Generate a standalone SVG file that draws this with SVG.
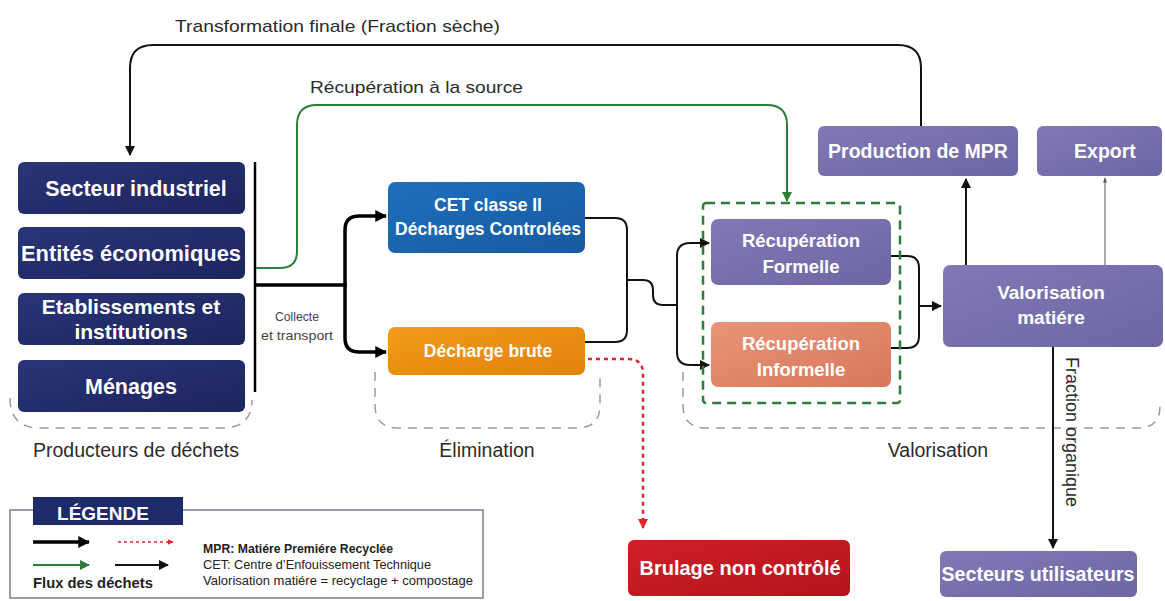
<svg xmlns="http://www.w3.org/2000/svg" width="1165" height="601" viewBox="0 0 1165 601">
  <style>
    .lbl { font-family: "Liberation Sans", Arial, sans-serif; fill: #2b2b2b; font-size: 17px; }
    .zl { font-size: 19.5px; text-anchor: middle; }
    .nt { font-family: "Liberation Sans", Arial, sans-serif; fill: #ffffff; font-weight: bold; text-anchor: middle; }
    .zone { fill: none; stroke: #9a9a9a; stroke-width: 1.5; stroke-dasharray: 9 7; }
    .thick { fill: none; stroke: #000; stroke-width: 3.5; }
    .thin { fill: none; stroke: #111; stroke-width: 2; }
    .hair { fill: none; stroke: #555; stroke-width: 1; }
    .green { fill: none; stroke: #2f7d3a; stroke-width: 2; }
    .red { fill: none; stroke: #e3262b; stroke-width: 2.5; stroke-dasharray: 4 4; }
    .leg { font-family: "Liberation Sans", Arial, sans-serif; fill: #222; font-size: 13.5px; }
    .ct { font-size: 13px; fill: #444; text-anchor: middle; }
  </style>
  <defs>
    <linearGradient id="gNavy" x1="0" y1="0" x2="1" y2="1">
      <stop offset="0" stop-color="#2a3478"/><stop offset="1" stop-color="#1d255e"/>
    </linearGradient>
    <linearGradient id="gBlue" x1="0" y1="0" x2="1" y2="1">
      <stop offset="0" stop-color="#1f6fbd"/><stop offset="1" stop-color="#175aa0"/>
    </linearGradient>
    <linearGradient id="gOrange" x1="0" y1="0" x2="1" y2="1">
      <stop offset="0" stop-color="#f59a1a"/><stop offset="1" stop-color="#e0820a"/>
    </linearGradient>
    <linearGradient id="gPurple" x1="0" y1="0" x2="1" y2="1">
      <stop offset="0" stop-color="#8079b5"/><stop offset="1" stop-color="#6d66a4"/>
    </linearGradient>
    <linearGradient id="gSalmon" x1="0" y1="0" x2="1" y2="1">
      <stop offset="0" stop-color="#e99578"/><stop offset="1" stop-color="#d6775a"/>
    </linearGradient>
    <linearGradient id="gRed" x1="0" y1="0" x2="1" y2="1">
      <stop offset="0" stop-color="#d01f26"/><stop offset="1" stop-color="#b3141b"/>
    </linearGradient>
    <marker id="aBlack" viewBox="0 0 10 10" refX="9" refY="5" markerWidth="3.4" markerHeight="3.4" orient="auto">
      <path d="M0,0 L10,5 L0,10 Z" fill="#000"/>
    </marker>
    <marker id="aThin" viewBox="0 0 10 10" refX="9" refY="5" markerWidth="5" markerHeight="5" orient="auto">
      <path d="M0,0 L10,5 L0,10 Z" fill="#111"/>
    </marker>
    <marker id="aHair" viewBox="0 0 10 10" refX="9" refY="5" markerWidth="5" markerHeight="5" orient="auto">
      <path d="M0,1 L10,5 L0,9 Z" fill="#555"/>
    </marker>
    <marker id="aGreen" viewBox="0 0 10 10" refX="9" refY="5" markerWidth="5" markerHeight="5" orient="auto">
      <path d="M0,0 L10,5 L0,10 Z" fill="#2f7d3a"/>
    </marker>
    <marker id="aRed" viewBox="0 0 10 10" refX="9" refY="5" markerWidth="4" markerHeight="4" orient="auto">
      <path d="M0,0 L10,5 L0,10 Z" fill="#e3262b"/>
    </marker>
  </defs>

  <rect width="1165" height="601" fill="#ffffff"/>

  <!-- dashed zones -->
  <g id="zones">
    <path class="zone" d="M10,398 Q10,428 40,428 H222 Q252,428 252,400"/>
    <path class="zone" d="M375,372 V405 Q375,428 398,428 H577 Q600,428 600,405 V372"/>
    <path class="zone" d="M683,372 V405 Q683,428 706,428 H1138 Q1160,428 1160,406"/>
    <text class="lbl zl" x="136" y="457">Producteurs de déchets</text>
    <text class="lbl zl" x="487" y="457">Élimination</text>
    <text class="lbl zl" x="938" y="457">Valorisation</text>
  </g>

  <!-- connectors -->
  <g id="connectors">
    <!-- collection bar and main flow -->
    <line x1="255" y1="162" x2="255" y2="392" stroke="#000" stroke-width="2.5"/>
    <path class="thick" d="M255,285 H345"/>
    <path class="thick" d="M345,287 V230 Q345,216 359,216 H386" marker-end="url(#aBlack)"/>
    <path class="thick" d="M345,283 V338 Q345,352 359,352 H386" marker-end="url(#aBlack)"/>
    <text class="leg ct" x="297" y="321" textLength="44" lengthAdjust="spacingAndGlyphs">Collecte</text>
    <text class="leg ct" x="297" y="340" textLength="72" lengthAdjust="spacingAndGlyphs">et transport</text>

    <!-- elimination to recovery -->
    <path class="thin" d="M585,218 H615 Q627,218 627,230 V330 Q627,342 615,342 H585"/>
    <path class="thin" d="M627,280 H643 Q653,280 653,290 V295 Q653,305 663,305 H677"/>
    <path class="thin" d="M677,256 Q677,243 690,243 H709" marker-end="url(#aThin)"/>
    <path class="thin" d="M677,256 V352 Q677,365 690,365 H709" marker-end="url(#aThin)"/>

    <!-- recovery to valorisation -->
    <path class="thin" d="M891,256 H907 Q919,256 919,268 V336 Q919,348 907,348 H891"/>
    <path class="thin" d="M919,306 H941" marker-end="url(#aThin)"/>

    <!-- valorisation outputs -->
    <path class="thin" d="M966,265 V179" marker-end="url(#aThin)"/>
    <path class="hair" d="M1105,265 V178" marker-end="url(#aHair)"/>
    <path class="thin" d="M1053,347 V548" marker-end="url(#aThin)"/>
    <text class="lbl" x="0" y="0" style="font-size:18px" transform="translate(1066,357) rotate(90)">Fraction organique</text>

    <!-- uncontrolled burning -->
    <path class="red" d="M588,359 H628 Q643,359 643,374 V528" marker-end="url(#aRed)"/>

    <!-- dry fraction back to producers -->
    <path class="thin" d="M921,126 V68 Q921,45 898,45 H153 Q130,45 130,68 V155" marker-end="url(#aThin)"/>
    <text class="lbl" x="175" y="32" textLength="325" lengthAdjust="spacingAndGlyphs">Transformation finale (Fraction sèche)</text>

    <!-- source separation -->
    <path class="green" d="M256,268 H280 Q297,268 297,251 V125 Q297,105 317,105 H767 Q787,105 787,125 V201" marker-end="url(#aGreen)"/>
    <text class="lbl" x="310" y="93" textLength="213" lengthAdjust="spacingAndGlyphs">Récupération à la source</text>
  </g>

  <!-- producers -->
  <g id="secteur-industriel">
    <rect x="18" y="162" width="227" height="52" rx="6" fill="url(#gNavy)"/>
    <text class="nt" x="136" y="196" font-size="21.5">Secteur industriel</text>
  </g>
  <g id="entites-economiques">
    <rect x="18" y="227" width="227" height="52" rx="6" fill="url(#gNavy)"/>
    <text class="nt" x="131" y="261" font-size="21.5" textLength="220" lengthAdjust="spacingAndGlyphs">Entités économiques</text>
  </g>
  <g id="etablissements">
    <rect x="18" y="293" width="227" height="52" rx="6" fill="url(#gNavy)"/>
    <text class="nt" x="131" y="314" font-size="21">Etablissements et</text>
    <text class="nt" x="131" y="339" font-size="21">institutions</text>
  </g>
  <g id="menages">
    <rect x="18" y="360" width="227" height="52" rx="6" fill="url(#gNavy)"/>
    <text class="nt" x="131" y="394" font-size="21.5">Ménages</text>
  </g>

  <!-- elimination -->
  <g id="cet">
    <rect x="388" y="182" width="197" height="71" rx="7" fill="url(#gBlue)"/>
    <text class="nt" x="488" y="211" font-size="17.5">CET classe II</text>
    <text class="nt" x="488" y="235" font-size="17.5">Décharges Controlées</text>
  </g>
  <g id="decharge-brute">
    <rect x="388" y="327" width="197" height="48" rx="7" fill="url(#gOrange)"/>
    <text class="nt" x="488" y="357" font-size="17.5">Décharge brute</text>
  </g>
  <g id="brulage">
    <rect x="628" y="540" width="222" height="56" rx="6" fill="url(#gRed)"/>
    <text class="nt" x="740" y="575" font-size="20">Brulage non contrôlé</text>
  </g>

  <!-- recovery -->
  <g id="recuperation">
    <rect x="703" y="203" width="197" height="200" rx="3" fill="none" stroke="#2f7d3a" stroke-width="2.5" stroke-dasharray="9 6"/>
  </g>
  <g id="recuperation-formelle">
    <rect x="711" y="219" width="180" height="66" rx="7" fill="url(#gPurple)"/>
    <text class="nt" x="801" y="247" font-size="18.5">Récupération</text>
    <text class="nt" x="801" y="273" font-size="18.5">Formelle</text>
  </g>
  <g id="recuperation-informelle">
    <rect x="711" y="322" width="180" height="65" rx="7" fill="url(#gSalmon)"/>
    <text class="nt" x="801" y="350" font-size="18.5">Récupération</text>
    <text class="nt" x="801" y="376" font-size="18.5">Informelle</text>
  </g>

  <!-- valorisation -->
  <g id="valorisation-matiere">
    <rect x="943" y="265" width="220" height="82" rx="7" fill="url(#gPurple)"/>
    <text class="nt" x="1051" y="299" font-size="19">Valorisation</text>
    <text class="nt" x="1051" y="324" font-size="19">matiére</text>
  </g>
  <g id="production-mpr">
    <rect x="818" y="126" width="200" height="50" rx="6" fill="url(#gPurple)"/>
    <text class="nt" x="918" y="158" font-size="19.5">Production de MPR</text>
  </g>
  <g id="export">
    <rect x="1037" y="126" width="125" height="50" rx="6" fill="url(#gPurple)"/>
    <text class="nt" x="1105" y="158" font-size="19.5">Export</text>
  </g>
  <g id="secteurs-utilisateurs">
    <rect x="940" y="551" width="197" height="46" rx="6" fill="url(#gPurple)"/>
    <text class="nt" x="1038" y="581" font-size="19.5" textLength="193" lengthAdjust="spacingAndGlyphs">Secteurs utilisateurs</text>
  </g>

  <!-- legend -->
  <g id="legende">
    <rect x="10" y="510" width="473" height="88" fill="#ffffff" stroke="#7d7a9c" stroke-width="1.5"/>
    <rect x="33" y="497" width="150" height="28" fill="#1f2a6b"/>
    <text class="nt" x="103" y="520" font-size="19">LÉGENDE</text>
    <path class="thick" d="M33,542 H89" marker-end="url(#aBlack)"/>
    <path d="M118,542 H173" fill="none" stroke="#e3262b" stroke-width="1.5" stroke-dasharray="3 3" marker-end="url(#aRed)"/>
    <path class="green" d="M33,565 H89" stroke-width="1.5" marker-end="url(#aGreen)"/>
    <path class="thin" d="M115,565 H168" stroke-width="1.5" marker-end="url(#aThin)"/>
    <text class="leg" x="33" y="588" style="font-size:15px; font-weight:bold" textLength="120" lengthAdjust="spacingAndGlyphs">Flux des déchets</text>
    <text class="leg" x="203" y="553" font-weight="bold" textLength="190" lengthAdjust="spacingAndGlyphs">MPR: Matiére Premiére Recyclée</text>
    <text class="leg" x="203" y="569" textLength="228" lengthAdjust="spacingAndGlyphs">CET: Centre d’Enfouissement Technique</text>
    <text class="leg" x="203" y="585" textLength="270" lengthAdjust="spacingAndGlyphs">Valorisation matiére = recyclage + compostage</text>
  </g>
</svg>
